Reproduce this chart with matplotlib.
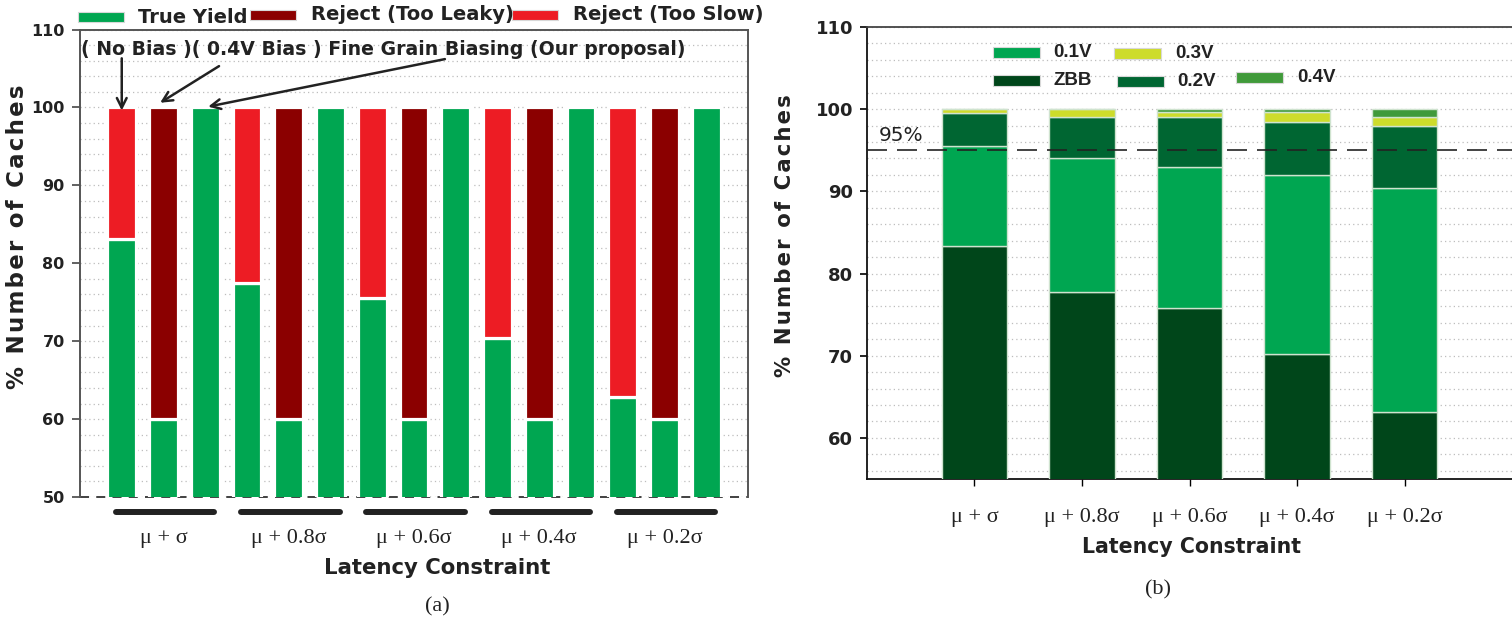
import matplotlib
matplotlib.use("Agg")
import matplotlib.pyplot as plt
from matplotlib.patches import Rectangle
import numpy as np

# ---------------- data ----------------
constraints = ["μ+σ", "μ+0.8σ", "μ+0.6σ", "μ+0.4σ", "μ+0.2σ"]

# (a) percentage of caches accepted for each biasing scheme
no_bias_yield = [83.1, 77.5, 75.5, 70.4, 62.8]
bias_04v_yield = [60.0, 60.0, 60.0, 60.0, 60.0]
fine_grain_yield = [100.0, 100.0, 100.0, 100.0, 100.0]
too_slow = [100 - v for v in no_bias_yield]      # rejected: latency too high
too_leaky = [100 - v for v in bias_04v_yield]    # rejected: leakage too high

# (b) share of caches per body-bias voltage chosen by fine grain biasing
zbb = [83.4, 77.8, 75.8, 70.2, 63.2]
v01 = [12.1, 16.2, 17.2, 21.8, 27.2]
v02 = [4.0, 5.1, 6.1, 6.5, 7.6]
v03 = [0.5, 0.9, 0.5, 1.1, 1.1]
v04 = [0.0, 0.0, 0.4, 0.4, 0.9]
target_pct = 95

# ---------------- style ----------------
GREEN, DARK_RED, RED = "#00a651", "#8b0000", "#ed1c24"
C_ZBB, C_01, C_02, C_03, C_04 = "#00461a", "#00a651", "#006632", "#cddc2b", "#409a3a"
SANS = "DejaVu Sans"
ARIAL = ["Liberation Sans", "DejaVu Sans"]
SERIF = ["Liberation Serif", "DejaVu Serif"]
GRID = dict(color="#bdbdbd", lw=0.9, ls=(0, (1, 2.5)))
INK = "#222222"

W, H = 1512, 626
fig = plt.figure(figsize=(W / 100, H / 100), dpi=100)


def frac(px, py):
    return px / W, 1 - py / H


def tracked(s):
    """Spread the letters of an axis title slightly apart."""
    return "\u200a".join(s)


def spaced(label):
    """Constraint label with a little room around the plus sign."""
    return label.replace("+", " + ")


def legend_entries(ax, entries, fontsize, family):
    """Patch + label pairs placed at axes-fraction coordinates."""
    for (x, y, w, h), color, label, tx in entries:
        ax.add_patch(Rectangle((x, y), w, h, transform=ax.transAxes, facecolor=color,
                               edgecolor="#d8d8d8", lw=0.8, clip_on=False))
        ax.text(tx, y + h / 2, label, transform=ax.transAxes, ha="left", va="center",
                fontsize=fontsize, fontweight="bold", family=family, color=INK)


# ================= panel (a) =================
ax = fig.add_axes([80 / W, 1 - 497 / H, 668 / W, 467.5 / H])
groups = np.arange(len(constraints)) * 3
x_nb, x_b4, x_fg = groups, groups + 1, groups + 2
bar_kw = dict(width=0.69, edgecolor="white", linewidth=2.3, zorder=3)
ax.bar(x_nb, no_bias_yield, color=GREEN, **bar_kw)
ax.bar(x_nb, too_slow, bottom=no_bias_yield, color=RED, **bar_kw)
ax.bar(x_b4, bias_04v_yield, color=GREEN, **bar_kw)
ax.bar(x_b4, too_leaky, bottom=bias_04v_yield, color=DARK_RED, **bar_kw)
ax.bar(x_fg, fine_grain_yield, color=GREEN, **bar_kw)

ax.set_xlim(-1, 15)
ax.set_ylim(50, 110)
ax.set_yticks(np.arange(50, 111, 10))
ax.set_yticks(np.arange(52, 110, 2), minor=True)
ax.grid(which="both", axis="y", **GRID, zorder=0)
ax.set_axisbelow(True)
ax.set_xticks([])
for s in ("top", "right", "left"):
    ax.spines[s].set_color("#555555")
    ax.spines[s].set_linewidth(1.4)
ax.spines["bottom"].set_visible(False)
ax.axhline(50, color="#333333", lw=1.3, ls=(0, (5, 4)), zorder=1, clip_on=False)
ax.tick_params(axis="y", which="major", direction="out", length=6, width=1.3,
               color="#555555", pad=5, labelsize=11.5)
ax.tick_params(axis="y", which="minor", length=0)
for t in ax.get_yticklabels():
    t.set_fontweight("bold")
    t.set_family(SANS)
    t.set_color(INK)

# group underlines and constraint labels
xt = ax.get_xaxis_transform()
for g, lab in zip(groups, constraints):
    ax.plot([g - 0.14, g + 2.22], [-0.032, -0.032], transform=xt, color=INK,
            lw=4.3, solid_capstyle="round", clip_on=False)
    ax.text(g + 1, -0.088, spaced(lab), transform=xt, ha="center", va="center",
            fontsize=16, family=SERIF, color=INK)

# scheme annotations
ax.text(-0.97, 107.4, "( No Bias )( 0.4V Bias ) Fine Grain Biasing (Our proposal)",
        ha="left", va="center", fontsize=13.6, fontweight="bold", family=SANS,
        color=INK, zorder=5)
arrow = dict(arrowstyle="->,head_length=0.7,head_width=0.35", color=INK, lw=1.8,
             shrinkA=0, shrinkB=0)
ax.annotate("", xy=(x_nb[0], 99.6), xytext=(x_nb[0], 106.3), arrowprops=arrow)
ax.annotate("", xy=(x_b4[0] - 0.08, 100.6), xytext=(2.33, 105.3), arrowprops=arrow)
ax.annotate("", xy=(x_fg[0] + 0.07, 100.1), xytext=(7.74, 106.2), arrowprops=arrow)

# legend above the panel
ha_ = 467.5
legend_entries(ax, [
    (((78 - 80) / 668, (497 - 21.5) / ha_, 46 / 668, 9 / ha_), GREEN, "True Yield", (138 - 80) / 668),
    (((250 - 80) / 668, (497 - 19.5) / ha_, 46 / 668, 9 / ha_), DARK_RED, "Reject (Too Leaky)", (311 - 80) / 668),
    (((512 - 80) / 668, (497 - 19.5) / ha_, 46 / 668, 9 / ha_), RED, "Reject (Too Slow)", (573 - 80) / 668),
], fontsize=14, family=SANS)

fig.text(*frac(18, 237), tracked("% Number of Caches"), rotation=90, ha="center",
         va="center", fontsize=16.5, fontweight="bold", family=SANS, color=INK)
fig.text(*frac(437, 568), "Latency Constraint", ha="center", va="center",
         fontsize=15.3, fontweight="bold", family=SANS, color=INK)
fig.text(*frac(437, 607), "(a)", ha="center", va="center", fontsize=16, family=SERIF,
         color=INK)

# ================= panel (b) =================
bx = fig.add_axes([867 / W, 1 - 479 / H, 645 / W, 452 / H])
xb = np.arange(len(constraints))
seg_kw = dict(width=0.61, edgecolor="#cfe3cf", linewidth=1.0, zorder=3)
bottom = np.zeros(len(constraints))
for vals, col in ((zbb, C_ZBB), (v01, C_01), (v02, C_02), (v03, C_03), (v04, C_04)):
    vals = np.asarray(vals)
    bx.bar(xb, vals, bottom=bottom, color=col, **seg_kw)
    bottom = bottom + vals

bx.set_xlim(-1, 5)
bx.set_ylim(55, 110)
bx.set_yticks(np.arange(60, 111, 10))
bx.set_yticks(np.arange(56, 110, 2), minor=True)
bx.grid(which="both", axis="y", **GRID, zorder=0)
bx.set_axisbelow(True)
bx.axhline(target_pct, color=INK, lw=1.2, ls=(0, (12, 6)), zorder=5)
bx.text(0.018, target_pct + 0.6, f"{target_pct}%", transform=bx.get_yaxis_transform(),
        ha="left", va="bottom", fontsize=14.5, family=SANS, color=INK)
bx.set_xticks(xb)
bx.set_xticklabels([spaced(c) for c in constraints], family=SERIF, fontsize=16, color=INK)
bx.tick_params(axis="x", direction="out", length=5, width=1.0, pad=16)
bx.tick_params(axis="y", which="major", direction="out", length=5, width=1.2, pad=5,
               labelsize=13)
bx.tick_params(axis="y", which="minor", length=0)
for t in bx.get_yticklabels():
    t.set_fontweight("bold")
    t.set_family(SANS)
    t.set_color(INK)
bx.spines["right"].set_visible(False)
bx.spines["top"].set_color("#444444")
bx.spines["top"].set_linewidth(1.3)
for s in ("left", "bottom"):
    bx.spines[s].set_color("#111111")
    bx.spines[s].set_linewidth(1.3)

hb = 452.0
def bpos(px0, py0, px1, py1):
    return ((px0 - 867) / 645, (479 - py1) / hb, (px1 - px0) / 645, (py1 - py0) / hb)

legend_entries(bx, [
    (bpos(993, 47, 1040, 58), C_01, "0.1V", (1053 - 867) / 645),
    (bpos(1114, 48, 1161, 59), C_03, "0.3V", (1175 - 867) / 645),
    (bpos(993, 75, 1040, 86), C_ZBB, "ZBB", (1053 - 867) / 645),
    (bpos(1117, 76, 1164, 87), C_02, "0.2V", (1177 - 867) / 645),
    (bpos(1236, 72, 1283, 83), C_04, "0.4V", (1297 - 867) / 645),
], fontsize=13.5, family=ARIAL)

fig.text(*frac(785, 236), tracked("% Number of Caches"), rotation=90, ha="center",
         va="center", fontsize=15.3, fontweight="bold", family=SANS, color=INK)
fig.text(*frac(1192, 547), "Latency Constraint", ha="center", va="center",
         fontsize=14.8, fontweight="bold", family=SANS, color=INK)
fig.text(*frac(1158, 590), "(b)", ha="center", va="center", fontsize=16, family=SERIF,
         color=INK)

fig.savefig("out.png", dpi=100)
